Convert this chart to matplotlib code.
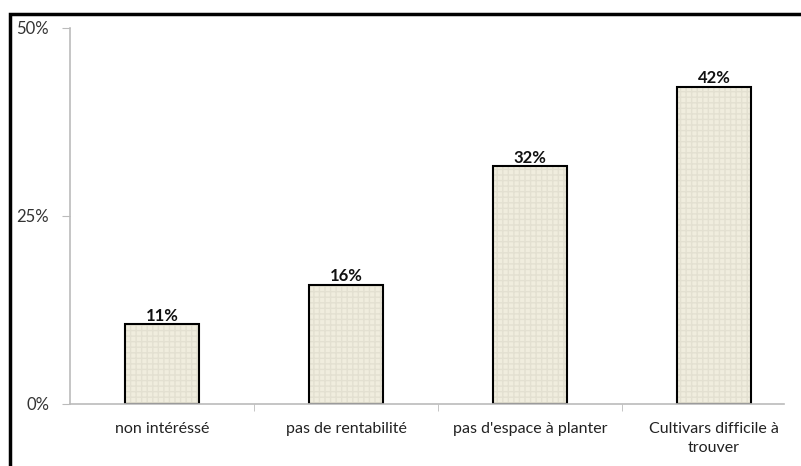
import matplotlib.pyplot as plt
from matplotlib.patches import Rectangle
from matplotlib.ticker import FixedLocator

plt.rcParams['font.family'] = ['Lato', 'DejaVu Sans']

categories = ["non intéréssé", "pas de rentabilité", "pas d'espace à planter",
              "Cultivars difficile à\ntrouver"]
values = [10.6, 15.8, 31.6, 42.2]
value_labels = ["11%", "16%", "32%", "42%"]
yticks = [0, 25, 50]
ytick_labels = ["0%", "25%", "50%"]

W, H = 801, 466
fig = plt.figure(figsize=(W / 100, H / 100), dpi=100)

# outer frame (cropped at right/bottom in the original)
fig.patches.append(Rectangle((10 / W, -0.05), 1.2, (H - 14) / H + 0.05,
                             transform=fig.transFigure, fill=False,
                             edgecolor="black", linewidth=2.5))

ax = fig.add_axes([70 / W, (H - 404) / H, (784 - 70) / W, (404 - 28) / H])
x = range(len(categories))
ax.bar(x, values, width=0.40, color="#F0EDDE", edgecolor="black",
       linewidth=1.5, hatch="+++", zorder=2)
# soft canvas-like texture
for b in ax.patches:
    b._hatch_color = (0.89, 0.88, 0.82, 1.0)

for xi, v, lab in zip(x, values, value_labels):
    ax.text(xi, v + 0.1, lab, ha="center", va="bottom", fontsize=12,
            fontweight="bold", color="#111111")

ax.set_xlim(-0.5, 3.38)
ax.set_ylim(0, 50)
ax.set_yticks(yticks)
ax.set_yticklabels(ytick_labels, fontsize=12, color="#333333")
ax.set_xticks(list(x))
ax.set_xticklabels(categories, fontsize=11.5, color="#222222",
                   linespacing=1.45)
ax.tick_params(axis="x", length=0, pad=13)
ax.tick_params(axis="y", length=6, color="#BBBBBB", pad=9)
ax.xaxis.set_minor_locator(FixedLocator([0.5, 1.5, 2.5]))
ax.tick_params(axis="x", which="minor", length=5, color="#BBBBBB",
               direction="out")

for s in ["top", "right"]:
    ax.spines[s].set_visible(False)
for s in ["left", "bottom"]:
    ax.spines[s].set_color("#BBBBBB")
    ax.spines[s].set_linewidth(1.2)

fig.savefig("out.png", dpi=100)
